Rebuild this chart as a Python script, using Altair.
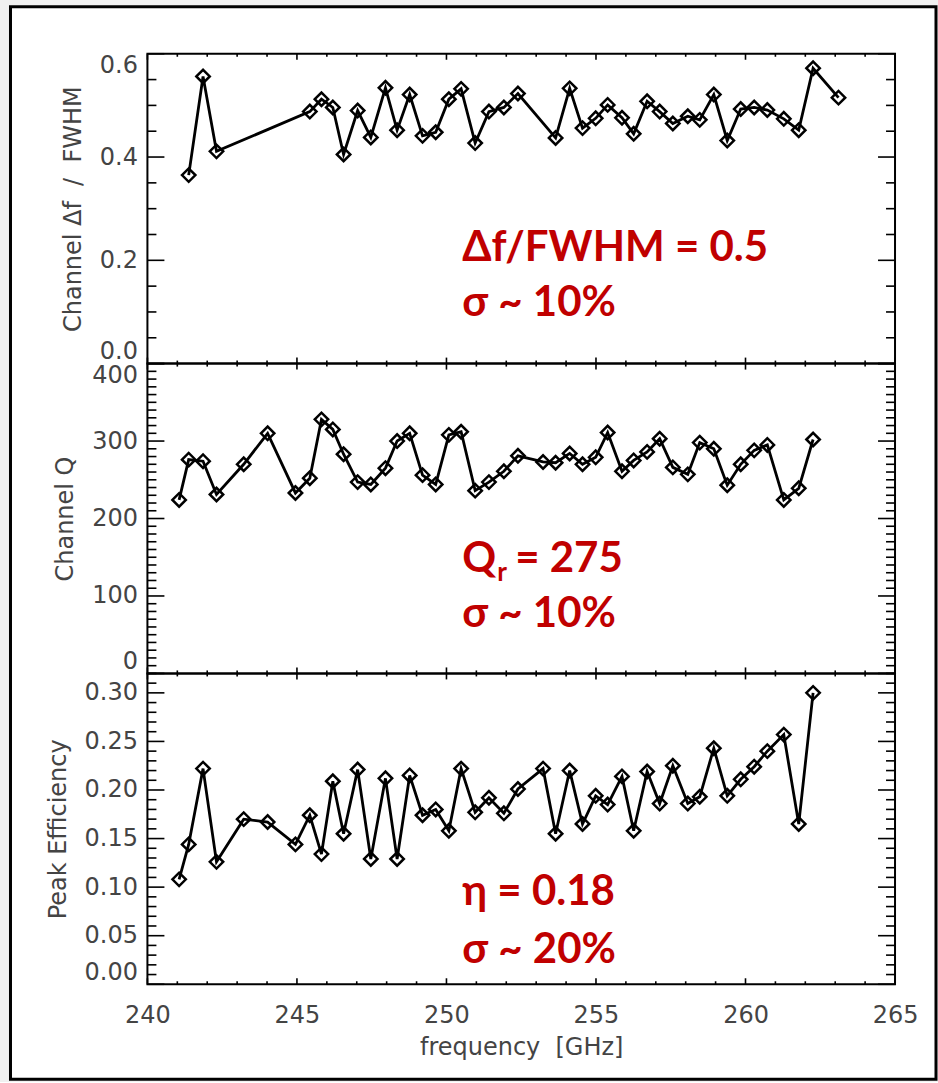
import altair as alt
import pandas as pd

# Channel centre frequencies [GHz] (Q and efficiency panels)
freq = [241.06, 241.38, 241.86, 242.31, 243.22, 244.02, 244.95, 245.43, 245.82,
        246.20, 246.56, 247.03, 247.47, 247.96, 248.35, 248.77, 249.20, 249.64,
        250.08, 250.49, 250.96, 251.42, 251.92, 252.39, 253.23, 253.65, 254.12,
        254.55, 254.99, 255.39, 255.87, 256.26, 256.71, 257.13, 257.57, 258.07,
        258.47, 258.94, 259.39, 259.84, 260.29, 260.73, 261.28, 261.78, 262.26]

# Frequencies where the channel spacing / FWHM ratio was measured
freq_ratio = [241.38, 241.86, 242.31, 245.43, 245.82, 246.20, 246.56, 247.03,
              247.47, 247.96, 248.35, 248.77, 249.20, 249.64, 250.08, 250.49,
              250.96, 251.42, 251.92, 252.39, 253.65, 254.12, 254.55, 254.99,
              255.39, 255.87, 256.26, 256.71, 257.13, 257.57, 258.07, 258.47,
              258.94, 259.39, 259.84, 260.29, 260.73, 261.28, 261.78, 262.26,
              263.11]

ratio = [0.365, 0.556, 0.411, 0.488, 0.512, 0.496, 0.405, 0.490, 0.438, 0.534,
         0.452, 0.521, 0.441, 0.448, 0.512, 0.532, 0.427, 0.488, 0.496, 0.523,
         0.437, 0.533, 0.456, 0.475, 0.501, 0.476, 0.445, 0.508, 0.488, 0.465,
         0.479, 0.472, 0.521, 0.432, 0.493, 0.496, 0.491, 0.474, 0.452, 0.572,
         0.515]

q_factor = [224, 276, 274, 231, 270, 310, 233, 252, 328, 315, 283, 247, 244,
            265, 300, 310, 256, 244, 308, 312, 236, 247, 261, 281, 273, 272,
            284, 270, 279, 311, 261, 275, 286, 303, 266, 257, 298, 290, 243,
            270, 288, 295, 224, 239, 302]

efficiency = [0.108, 0.144, 0.222, 0.126, 0.170, 0.167, 0.144, 0.174, 0.134,
              0.209, 0.155, 0.221, 0.129, 0.212, 0.129, 0.215, 0.174, 0.180,
              0.158, 0.222, 0.177, 0.192, 0.176, 0.201, 0.222, 0.155, 0.220,
              0.165, 0.194, 0.185, 0.214, 0.158, 0.219, 0.186, 0.225, 0.186,
              0.193, 0.243, 0.194, 0.211, 0.224, 0.240, 0.257, 0.165, 0.300]

x_major = [240, 245, 250, 255, 260, 265]
x_minor = [v for v in range(241, 265) if v % 5]

ratio_major = [0.0, 0.2, 0.4, 0.6]
ratio_minor = [0.05, 0.10, 0.15, 0.25, 0.30, 0.35, 0.45, 0.50, 0.55]
q_major = [0, 100, 200, 300, 400]
q_minor = [v for v in range(10, 400, 10) if v % 100]
eff_major = [0.00, 0.05, 0.10, 0.15, 0.20, 0.25, 0.30]
eff_minor = [v / 100 for v in range(1, 33) if v % 5]

W = 748
INK = "#444444"
RED = "#C00000"
LABEL_FONT = "DejaVu Sans"
NOTE_FONT = "Lato"
NBSP = "\u00a0"

xscale = alt.Scale(domain=[240, 265], nice=False, zero=False)


def one_row():
    return alt.Data(values=[{}])


def y_axis(title, values, fmt):
    return alt.Axis(title=title, values=values, format=fmt, grid=False,
                    domain=False, ticks=False, labelFont=LABEL_FONT,
                    labelFontSize=24, labelColor=INK, labelPadding=10,
                    labelFlush=True, labelOverlap=False, titleFont=LABEL_FONT,
                    titleFontSize=24, titleFontWeight="normal",
                    titleColor=INK, titlePadding=14, zindex=1)


def inward_ticks(H, yscale, y_major, y_minor, yax, xax):
    """Ticks drawn inside the box on all four sides."""
    layers = []
    rule = dict(color="black", strokeWidth=1.6)
    for vals, L in ((x_major, 6), (x_minor, 3)):
        d = pd.DataFrame({"v": vals})
        enc_x = alt.X("v:Q", scale=xscale, axis=xax)
        layers.append(alt.Chart(d).mark_rule(**rule).encode(
            x=enc_x, y=alt.value(0), y2=alt.value(L)))
        layers.append(alt.Chart(d).mark_rule(**rule).encode(
            x=enc_x, y=alt.value(H), y2=alt.value(H - L)))
    for vals, L in ((y_major, 17), (y_minor, 9)):
        d = pd.DataFrame({"v": vals})
        enc_y = alt.Y("v:Q", scale=yscale, axis=yax)
        layers.append(alt.Chart(d).mark_rule(**rule).encode(
            y=enc_y, x=alt.value(0), x2=alt.value(L)))
        layers.append(alt.Chart(d).mark_rule(**rule).encode(
            y=enc_y, x=alt.value(W), x2=alt.value(W - L)))
    return layers


def box(H):
    return alt.Chart(one_row()).mark_rect(
        fill=None, stroke="black", strokeWidth=2).encode(
        x=alt.value(0), x2=alt.value(W), y=alt.value(0), y2=alt.value(H))


def note(text, x, y, size=42):
    return alt.Chart(one_row()).mark_text(
        align="left", baseline="alphabetic", font=NOTE_FONT,
        fontWeight="bold", fontSize=size, color=RED).encode(
        x=alt.value(x), y=alt.value(y), text=alt.value(text))


def series(xs, ys, yscale, yax, xax):
    d = pd.DataFrame({"f": xs, "v": ys})
    base = alt.Chart(d).encode(
        x=alt.X("f:Q", scale=xscale, axis=xax),
        y=alt.Y("v:Q", scale=yscale, axis=yax))
    line = base.mark_line(color="black", strokeWidth=2.8)
    pts = base.mark_point(shape="diamond", size=180, filled=False,
                          color="black", strokeWidth=2.5, opacity=1)
    return [line, pts]


bottom_x_axis = alt.Axis(title="frequency" + NBSP + NBSP + "[GHz]",
                         values=x_major, format="d",
                         grid=False, domain=False, ticks=False,
                         labelFont=LABEL_FONT, labelFontSize=24,
                         labelColor=INK, labelPadding=19, labelFlush=False,
                         labelOverlap=False, titleFont=LABEL_FONT,
                         titleFontSize=24, titleFontWeight="normal",
                         titleColor=INK, titlePadding=8, zindex=1)


def panel(xs, ys, H, yscale, yax, xax, y_major, y_minor, extra):
    return alt.layer(
        *extra[0],
        *series(xs, ys, yscale, yax, xax),
        *inward_ticks(H, yscale, y_major, y_minor, yax, xax),
        box(H),
        *extra[1],
    ).properties(width=W, height=H)


# --- top panel: channel spacing relative to FWHM
H1 = 310
s1 = alt.Scale(domain=[0, 0.6], nice=False, zero=False)
frame = alt.Chart(one_row()).mark_rect(
    fill="white", stroke="black", strokeWidth=3).encode(
    x=alt.value(-137), x2=alt.value(789), y=alt.value(-47), y2=alt.value(1026))
ratio_title = "Channel \u0394f" + NBSP + NBSP + "/" + NBSP + NBSP + "FWHM"
top = panel(freq_ratio, ratio, H1, s1,
            y_axis(ratio_title, ratio_major, ".1f"), None,
            ratio_major, ratio_minor,
            ([frame], [note("\u0394f/FWHM = 0.5", 315, 207),
                       note("\u03c3 ~ 10%", 315, 262)]))

# --- middle panel: loaded Q
H2 = 310
s2 = alt.Scale(domain=[0, 400], nice=False, zero=False)
mid = panel(freq, q_factor, H2, s2, y_axis("Channel Q", q_major, "d"), None,
            q_major, q_minor,
            ([], [note("Q", 315, 209),
                  note("r", 350, 218, size=26),
                  note("= 275", 368, 209),
                  note("\u03c3 ~ 10%", 315, 264)]))

# --- bottom panel: peak efficiency
H3 = 311
s3 = alt.Scale(domain=[0, 0.32], nice=False, zero=False)
bot = panel(freq, efficiency, H3, s3,
            y_axis("Peak Efficiency", eff_major, ".2f"), bottom_x_axis,
            eff_major, eff_minor,
            ([], [note("\u03b7 = 0.18", 315, 232),
                  note("\u03c3 ~ 20%", 315, 290)]))

chart = alt.vconcat(top, mid, bot, spacing=0, bounds="flush").properties(
    background="#f0f0f0",
    padding={"left": 8.5, "top": 4.5, "right": 0, "bottom": 0},
).configure_view(stroke=None)

chart.save("out.html", embed_options={"renderer": "svg", "actions": False})
